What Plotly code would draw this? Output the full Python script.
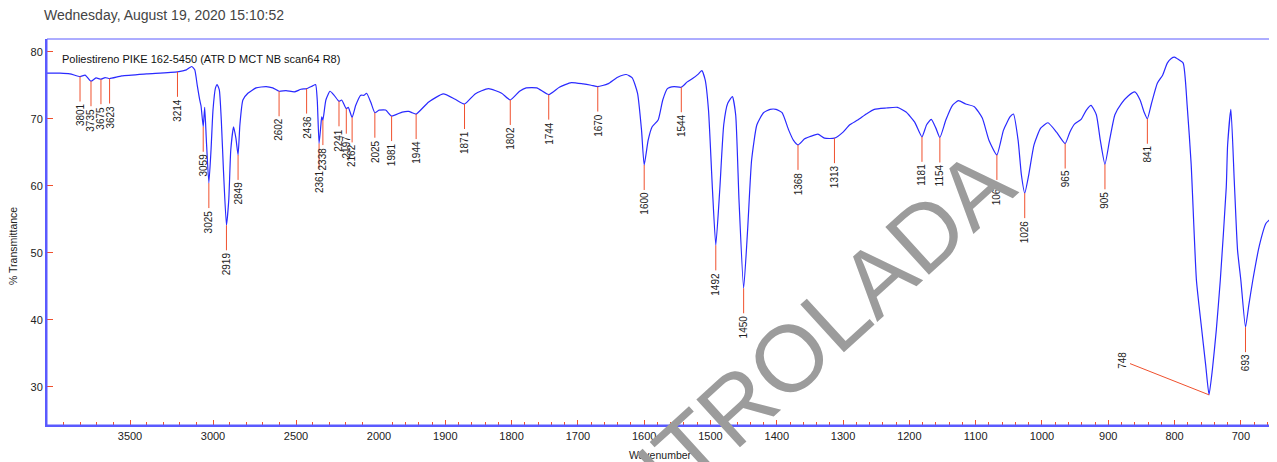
import numpy as np
import plotly.graph_objects as go

# ---------------- data ----------------
wavenumber = [
    4000, 3922, 3862, 3801, 3770, 3735, 3705, 3675, 3650, 3623, 3550, 3400, 3214, 3160,
    3128, 3110, 3095, 3080, 3072, 3059, 3050, 3040, 3025, 3012, 3000, 2985, 2975, 2962,
    2950, 2937, 2919, 2905, 2893, 2876, 2862, 2849, 2838, 2820, 2790, 2740, 2680, 2640,
    2602, 2560, 2510, 2470, 2436, 2400, 2382, 2372, 2361, 2350, 2345, 2338, 2320, 2295,
    2270, 2241, 2225, 2197, 2185, 2162, 2140, 2110, 2090, 2075, 2050, 2025, 2000,
    1990, 1981, 1965, 1955, 1950, 1944, 1925, 1903, 1885, 1871, 1855, 1835, 1815, 1802,
    1788, 1778, 1762, 1744, 1728, 1710, 1692, 1680, 1670, 1655, 1640, 1627, 1618, 1610,
    1604, 1600, 1594, 1588, 1579, 1572, 1565, 1555, 1544, 1535, 1527, 1518, 1513, 1508,
    1503, 1497, 1492, 1486, 1480, 1474, 1467, 1462, 1457, 1450, 1444, 1438, 1430, 1420,
    1410, 1401, 1392, 1382, 1375, 1368, 1358, 1348, 1338, 1328, 1313, 1300, 1290, 1278,
    1265, 1253, 1235, 1218, 1205, 1192, 1181, 1174, 1167, 1160, 1154, 1145, 1135, 1126,
    1115, 1102, 1090, 1080, 1068, 1058, 1048, 1043, 1036, 1031, 1026, 1020, 1012, 1002,
    991, 978, 965, 958, 951, 941, 933, 926, 918, 912, 905, 898, 890, 880, 870, 860, 852,
    846, 841, 835, 826, 818, 811, 805, 800, 795, 787, 781, 775, 767, 760, 753, 748, 743,
    737, 731, 722, 720, 715, 710, 705, 700, 693, 688, 682, 672, 662, 655, 650,
]
transmittance = [
    76.8, 76.8, 76.7, 76.3, 76.5, 75.6, 76.1, 75.9, 76.15, 76.0, 76.4, 76.7, 77.0, 77.3,
    77.8, 77.3, 75.0, 72.8, 71.9, 68.8, 71.7, 66.8, 60.4, 65.3, 71.3, 74.6, 75.1, 74.3,
    69.8, 62.3, 54.1, 57.9, 65.3, 68.8, 67.1, 64.6, 69.1, 72.8, 73.8, 74.6, 74.8, 74.6,
    74.1, 74.2, 74.0, 74.4, 74.5, 74.9, 75.1, 72.8, 66.3, 69.1, 70.3, 69.8, 72.8, 74.1,
    73.5, 72.6, 72.8, 71.5, 71.7, 70.2, 72.0, 73.5, 73.5, 73.8, 72.5, 70.9, 71.3,
    71.3, 70.4, 71.0, 71.1, 70.9, 70.7, 72.5, 73.7, 72.9, 72.2, 73.7, 74.5, 73.8, 72.8,
    74.1, 74.6, 74.6, 73.6, 74.7, 75.4, 75.2, 75.0, 74.8, 75.2, 76.2, 76.6, 76.1, 73.8,
    68.3, 63.1, 66.8, 68.8, 69.8, 72.8, 74.5, 74.8, 74.7, 75.5, 76.0, 76.7, 77.2, 75.8,
    71.3, 59.4, 51.1, 59.4, 69.1, 72.3, 73.3, 70.6, 57.9, 44.7, 53.4, 63.8, 69.1, 70.9,
    71.4, 71.4, 70.9, 68.3, 66.8, 66.1, 67.0, 67.4, 67.7, 67.1, 67.1, 68.0, 69.1, 69.8,
    70.7, 71.4, 71.6, 71.7, 71.0, 69.5, 67.3, 69.1, 69.9, 68.6, 67.2, 69.8, 72.0, 72.7,
    72.2, 71.8, 70.1, 66.8, 64.6, 68.3, 70.3, 70.7, 66.8, 61.6, 58.9, 61.6, 66.1, 68.6,
    69.4, 68.0, 66.3, 68.0, 69.2, 69.9, 71.3, 72.0, 70.6, 66.8, 63.2, 66.8, 70.6, 72.3,
    73.4, 74.0, 72.8, 71.0, 70.0, 72.2, 75.3, 76.5, 78.3, 79.0, 79.2, 78.9, 78.3, 72.0,
    63.3, 45.9, 39.4, 33.2, 28.8, 32.5, 38.5, 45.9, 59.8, 66.0, 71.4, 60.9, 50.4, 45.9,
    38.9, 42.2, 45.9, 51.1, 54.4, 55.0, 54.8,
]

peak_wavenumbers = [
    3801, 3735, 3675, 3623, 3214, 3059, 3025, 2919, 2849, 2602, 2436, 2361, 2338,
    2241, 2197, 2162, 2025, 1981, 1944, 1871, 1802, 1744, 1670, 1600, 1544, 1492,
    1450, 1368, 1313, 1181, 1154, 1068, 1026, 965, 905, 841, 748, 693,
]
peak_labels = [str(p) for p in peak_wavenumbers]

y_ticks = [30, 40, 50, 60, 70, 80]
x_ticks_high = [3500, 3000, 2500]
x_ticks_low = [2000, 1900, 1800, 1700, 1600, 1500, 1400, 1300, 1200, 1100, 1000, 900, 800, 700]

title_text = "Wednesday, August 19, 2020 15:10:52"
sample_text = "Poliestireno PIKE 162-5450 (ATR D MCT NB scan64 R8)"
watermark_text = "CONTROLADA"

# ---------------- styling / layout (page pixels) ----------------
PAGE_W, PAGE_H = 1277, 462
BODY = 8                                  # default page body margin
PL, PR, PT, PB = 47, 1274, 39, 425        # plot area edges in page pixels
W, H = PAGE_W - BODY, PAGE_H - BODY
ML, MR, MT, MB = PL - BODY, PAGE_W - PR, PT - BODY, (BODY + H) - PB
plot_w, plot_h = PR - PL, PB - PT
Y_RANGE = [24.3, 81.9]
SPLIT = 332 / plot_w
FONT = "Liberation Sans, Arial, sans-serif"
CURVE = "#2a2aff"
AXIS = "#5a5aff"
RED = "#f0502d"
px_per_unit = plot_h / (Y_RANGE[1] - Y_RANGE[0])
LINE_PX = 25


def px(xp):
    return (xp - PL) / plot_w


def py(yp):
    return (PB - yp) / plot_h


wn = np.array(wavenumber, dtype=float)
tr = np.array(transmittance, dtype=float)
hi = wn >= 2000
lo = wn <= 2000

fig = go.Figure()
fig.add_trace(go.Scatter(x=wn[hi], y=tr[hi], xaxis="x", yaxis="y", mode="lines",
                         line=dict(color=CURVE, width=1.2, shape="spline", smoothing=0.5),
                         hoverinfo="skip", showlegend=False))
fig.add_trace(go.Scatter(x=wn[lo], y=tr[lo], xaxis="x2", yaxis="y", mode="lines",
                         line=dict(color=CURVE, width=1.2, shape="spline", smoothing=0.5),
                         hoverinfo="skip", showlegend=False))

order = np.argsort(wn)
peak_T = np.interp(peak_wavenumbers, wn[order], tr[order])

# peak marker lines
for side in ("x", "x2"):
    xs, ys = [], []
    for p, t in zip(peak_wavenumbers, peak_T):
        if p == 748:
            continue
        if (p > 2000) == (side == "x"):
            xs += [p, p, None]
            ys += [t, t - LINE_PX / px_per_unit, None]
    fig.add_trace(go.Scatter(x=xs, y=ys, xaxis=side, yaxis="y", mode="lines",
                             line=dict(color=RED, width=1), hoverinfo="skip",
                             showlegend=False))

annotations = []
for p, lab, t in zip(peak_wavenumbers, peak_labels, peak_T):
    xr = "x" if p > 2000 else "x2"
    if p == 748:
        annotations.append(dict(x=p, y=t, xref=xr, yref="y", text=lab, textangle=-90,
                                showarrow=True, arrowhead=0, arrowwidth=1, arrowcolor=RED,
                                ax=-86, ay=-34, font=dict(family=FONT, size=10, color="#222")))
    else:
        annotations.append(dict(x=p, y=t, xref=xr, yref="y", text=lab, textangle=-90,
                                showarrow=False, yanchor="top", xanchor="center",
                                yshift=-LINE_PX, font=dict(family=FONT, size=10, color="#222")))

annotations += [
    dict(text=title_text, xref="paper", yref="paper", x=px(41.7), y=py(14.5),
         xanchor="left", yanchor="middle", showarrow=False,
         font=dict(family=FONT, size=14, color="#444")),
    dict(text=sample_text, xref="paper", yref="paper", x=px(60), y=py(59),
         xanchor="left", yanchor="middle", showarrow=False,
         font=dict(family=FONT, size=11, color="#111")),
    dict(text="Wavenumber", xref="paper", yref="paper", x=0.5, y=py(455),
         xanchor="center", yanchor="middle", showarrow=False,
         font=dict(family=FONT, size=10.5, color="#222")),
    dict(text="% Transmittance", xref="paper", yref="paper", x=px(13), y=py(246),
         xanchor="center", yanchor="middle", textangle=-90,
         showarrow=False, font=dict(family=FONT, size=10.5, color="#222")),
    dict(text=watermark_text, xref="paper", yref="paper", x=px(756), y=py(388),
         xanchor="center", yanchor="middle", textangle=-42.4,
         showarrow=False, font=dict(family=FONT, size=94, color="#9c9c9c")),
]

common_x = dict(showgrid=False, zeroline=False, showline=True, linecolor=AXIS, linewidth=2,
                ticks="inside", ticklen=5, tickwidth=1, tickcolor=RED,
                tickfont=dict(family=FONT, size=11, color="#222"), anchor="y")

fig.update_layout(
    width=W, height=H, margin=dict(l=ML, r=MR, t=MT, b=MB, autoexpand=False),
    paper_bgcolor="white", plot_bgcolor="white", showlegend=False,
    xaxis=dict(domain=[0, SPLIT], range=[4000, 2000], tickmode="array", tickvals=x_ticks_high,
               minor=dict(tickmode="linear", tick0=0, dtick=100, ticks="inside", ticklen=3,
                          tickcolor=RED), **common_x),
    xaxis2=dict(domain=[SPLIT, 1], range=[2000, 650], tickmode="array", tickvals=x_ticks_low,
                minor=dict(tickmode="linear", tick0=0, dtick=20, ticks="inside", ticklen=3,
                           tickcolor=RED), **common_x),
    yaxis=dict(range=Y_RANGE, tickmode="array", tickvals=y_ticks, showgrid=False,
               zeroline=False, showline=True, linecolor=AXIS, linewidth=2, ticks="inside",
               ticklen=6, tickwidth=1, tickcolor=RED, anchor="x",
               tickfont=dict(family=FONT, size=11, color="#222")),
    annotations=annotations,
    shapes=[dict(type="rect", xref="paper", yref="paper", x0=0, x1=1, y0=0, y1=1,
                 line=dict(color=AXIS, width=1), layer="above")],
)

fig.write_html("out.html")
